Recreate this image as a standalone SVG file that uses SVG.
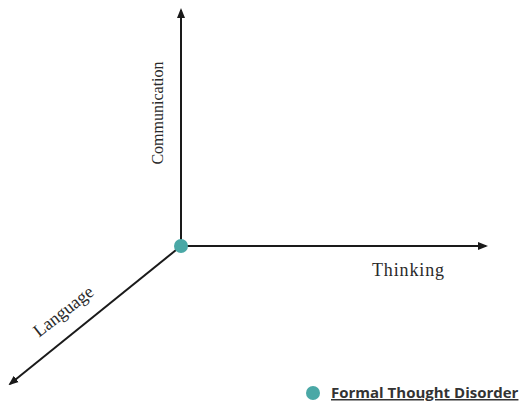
<svg xmlns="http://www.w3.org/2000/svg" width="526" height="402" viewBox="0 0 526 402">
<style>
.axis{stroke:#1a1a1a;stroke-width:2;fill:none;marker-end:url(#ah)}
.lbl{font-family:"Liberation Serif",serif;font-size:18px;fill:#2a2a2a}
.leg{font-family:"Open Sans","Liberation Sans",sans-serif;font-size:15px;font-weight:bold;fill:#333;text-decoration:underline}
.dot{fill:#4aa8a6}
</style>
<defs>
<marker id="ah" viewBox="0 0 10 10" refX="8" refY="5" markerWidth="5" markerHeight="5" orient="auto" markerUnits="strokeWidth">
<path d="M0,1 L10,5 L0,9 Z" fill="#1a1a1a"/>
</marker>
</defs>
<rect width="526" height="402" fill="#fff"/>
<g id="connectors">
<line class="axis" x1="181" y1="246" x2="181" y2="10"/>
<line class="axis" x1="181" y1="246" x2="486" y2="246"/>
<line class="axis" x1="181" y1="246" x2="10" y2="384"/>
</g>
<g id="origin"><circle class="dot" cx="181" cy="246" r="7"/></g>
<g id="communication"><text class="lbl" style="font-size:16px" transform="translate(163,113) rotate(-90)" text-anchor="middle">Communication</text></g>
<g id="thinking"><text class="lbl" x="372" y="276" textLength="72">Thinking</text></g>
<g id="language"><text class="lbl" transform="translate(67,316) rotate(-38)" text-anchor="middle">Language</text></g>
<g id="legend">
<circle class="dot" cx="313" cy="393" r="7"/>
<text class="leg" x="331" y="398">Formal Thought Disorder</text>
</g>
</svg>
